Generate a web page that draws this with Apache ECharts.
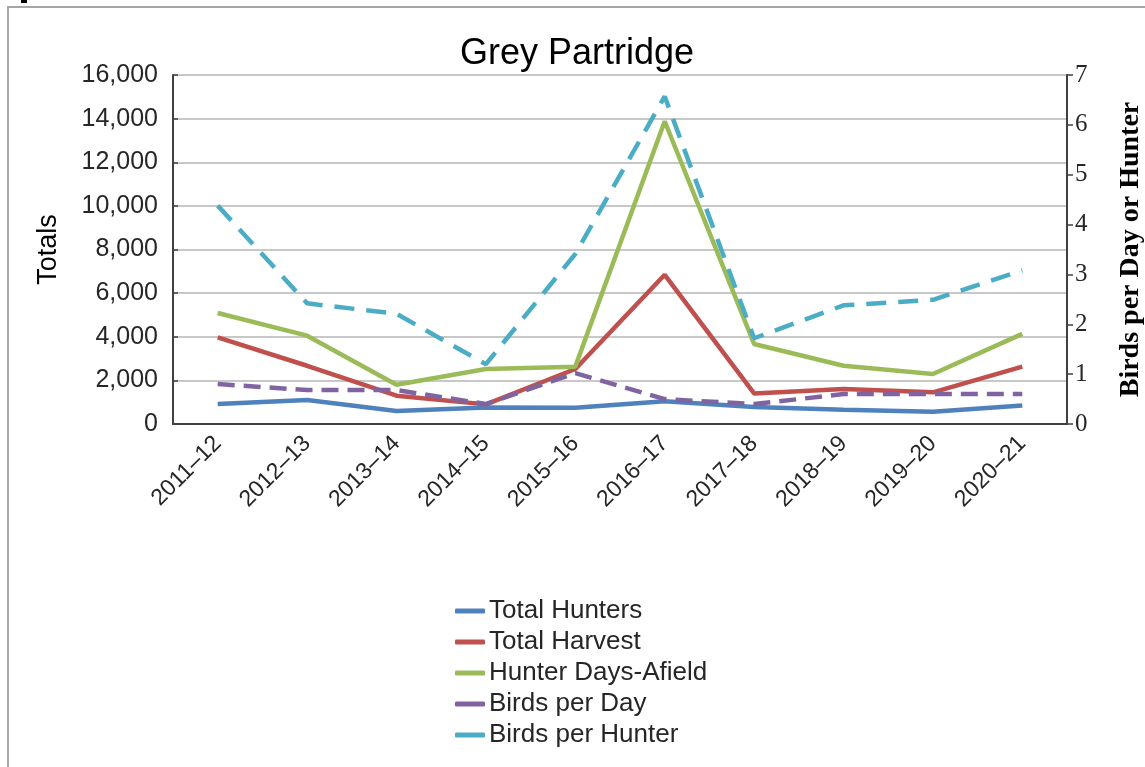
<!DOCTYPE html>
<html>
<head>
<meta charset="utf-8">
<script src="https://cdn.jsdelivr.net/npm/echarts@6/dist/echarts.min.js"></script>
<style>html,body{margin:0;padding:0;background:#fff;}#c{width:1145px;height:767px;}</style>
</head>
<body>
<div id="c"></div>
<script>
const categories = ['2011–12','2012–13','2013–14','2014–15','2015–16','2016–17','2017–18','2018–19','2019–20','2020–21'];
const totalHunters = [920, 1100, 600, 760, 750, 1040, 780, 650, 560, 850];
const totalHarvest = [3970, 2670, 1300, 900, 2520, 6840, 1400, 1600, 1450, 2630];
const hunterDays = [5090, 4050, 1800, 2520, 2630, 13880, 3670, 2670, 2290, 4130];
const birdsPerDay = [0.80, 0.68, 0.68, 0.40, 1.02, 0.50, 0.40, 0.60, 0.60, 0.60];
const birdsPerHunter = [4.38, 2.42, 2.21, 1.20, 3.41, 6.57, 1.72, 2.38, 2.49, 3.08];
const leftTicks = {min: 0, max: 16000, interval: 2000};
const rightTicks = {min: 0, max: 7, interval: 1};
const legendNames = ['Total Hunters', 'Total Harvest', 'Hunter Days-Afield', 'Birds per Day', 'Birds per Hunter'];

const chart = echarts.init(document.getElementById('c'));
const sans = 'Liberation Sans, Arial, sans-serif';
const serif = 'Liberation Serif, Times New Roman, serif';
const lw = 4.5;
chart.setOption({
  animation: false,
  backgroundColor: '#fff',
  graphic: [
    {type: 'polyline', shape: {points: [[8, 767], [8, 7], [1145, 7]]}, style: {stroke: '#a6a6a6', lineWidth: 2, fill: null}},
    {type: 'rect', shape: {x: 21, y: 0, width: 6, height: 3}, style: {fill: '#000'}}
  ],
  title: {
    text: 'Grey Partridge', left: 572, top: 31, textAlign: 'center',
    textStyle: {fontFamily: sans, fontSize: 36, fontWeight: 'normal', color: '#000'}
  },
  grid: {left: 173, right: 78, top: 75, bottom: 343, containLabel: false, outerBoundsMode: 'none'},
  legend: {
    orient: 'vertical', left: 450, top: 593, itemWidth: 30, itemHeight: 5, itemGap: 5,
    icon: 'roundRect',
    itemStyle: {borderWidth: 0},
    lineStyle: {type: 'solid', width: 5},
    textStyle: {fontFamily: sans, fontSize: 26, lineHeight: 26, color: '#262626', padding: [0, 0, 0, -1]},
    data: legendNames.map(n => ({name: n, icon: 'roundRect', lineStyle: {type: [100, 0], width: 5}, itemStyle: {borderWidth: 0}}))
  },
  xAxis: {
    type: 'category', data: categories, boundaryGap: true,
    axisLine: {lineStyle: {color: '#404040', width: 2}},
    axisTick: {show: false},
    axisLabel: {rotate: 45, fontFamily: sans, fontSize: 23, color: '#262626', margin: 16, interval: 0}
  },
  yAxis: [
    {
      type: 'value', min: leftTicks.min, max: leftTicks.max, interval: leftTicks.interval,
      name: 'Totals', nameLocation: 'middle', nameGap: 111, nameRotate: 90,
      nameTextStyle: {fontFamily: sans, fontSize: 27, color: '#000'},
      axisLine: {show: true, lineStyle: {color: '#404040', width: 2}},
      axisTick: {show: true, inside: true, length: 5, lineStyle: {color: '#404040', width: 1.5}},
      splitLine: {show: true, lineStyle: {color: '#c8c8c8', width: 2}},
      axisLabel: {fontFamily: sans, fontSize: 25, color: '#262626', margin: 15,
        formatter: v => v.toLocaleString('en-US')}
    },
    {
      type: 'value', min: rightTicks.min, max: rightTicks.max, interval: rightTicks.interval, position: 'right',
      name: 'Birds per Day or Hunter', nameLocation: 'middle', nameGap: 50, nameRotate: 90,
      nameTextStyle: {fontFamily: serif, fontSize: 28, fontWeight: 'bold', color: '#000'},
      axisLine: {show: true, lineStyle: {color: '#404040', width: 2}},
      axisTick: {show: true, inside: false, length: 6, lineStyle: {color: '#404040', width: 1.5}},
      splitLine: {show: false},
      axisLabel: {fontFamily: serif, fontSize: 25, color: '#262626', margin: 8}
    }
  ],
  series: [
    {name: 'Total Hunters', type: 'line', yAxisIndex: 0, data: totalHunters, symbol: 'none',
      color: '#4F81BD', lineStyle: {width: lw}},
    {name: 'Total Harvest', type: 'line', yAxisIndex: 0, data: totalHarvest, symbol: 'none',
      color: '#C0504D', lineStyle: {width: lw}},
    {name: 'Hunter Days-Afield', type: 'line', yAxisIndex: 0, data: hunterDays, symbol: 'none',
      color: '#9BBB59', lineStyle: {width: lw}},
    {name: 'Birds per Day', type: 'line', yAxisIndex: 1, data: birdsPerDay, symbol: 'none',
      color: '#8064A2', lineStyle: {width: lw, type: [17, 9]}},
    {name: 'Birds per Hunter', type: 'line', yAxisIndex: 1, data: birdsPerHunter, symbol: 'none',
      color: '#4BACC6', lineStyle: {width: lw, type: [20, 12]}}
  ]
});
</script>
</body>
</html>
